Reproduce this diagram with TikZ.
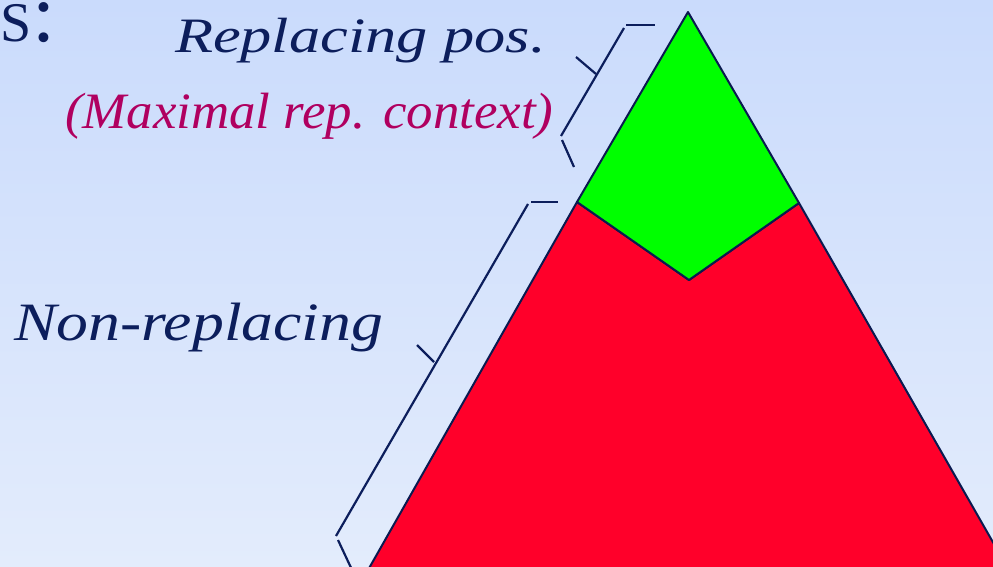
\documentclass[tikz,border=0pt]{standalone}
\usepackage{fontspec}
\setmainfont{Liberation Serif}
\usepackage{graphicx}
\definecolor{navy}{RGB}{12,30,92}
\definecolor{edge}{RGB}{10,26,80}
\definecolor{magentatxt}{RGB}{176,0,96}
\definecolor{bgtop}{RGB}{202,219,252}
\definecolor{bgbot}{RGB}{227,236,252}
\definecolor{greenfill}{RGB}{0,255,0}
\definecolor{redfill}{RGB}{255,0,42}
\tikzset{
  region/.style={draw=edge, line width=2pt, line join=round},
  bracket/.style={draw=navy, line width=2.2pt},
  lbl/.style={anchor=base west, inner sep=0pt, outer sep=0pt, text=navy},
}
\begin{document}
\begin{tikzpicture}[x=1pt,y=-1pt]
\useasboundingbox (0,0) rectangle (993,567);
\shade[top color=bgtop, bottom color=bgbot] (0,0) rectangle (993,567);
\begin{scope}
\clip (0,0) rectangle (993,567);
% coordinates
\coordinate (A) at (688,12);
\coordinate (L) at (577,202);
\coordinate (R) at (799,203);
\coordinate (N) at (689,280);
\coordinate (BL) at (351,600);
\coordinate (BR) at (1026,600);
% red region
\path[region, fill=redfill] (L) -- (N) -- (R) -- (BR) -- (BL) -- cycle;
% green region
\path[region, fill=greenfill] (A) -- (L) -- (N) -- (R) -- cycle;
% upper bracket
\coordinate (u1) at (626,25); \coordinate (u2) at (655,25);
\coordinate (u3) at (624,28); \coordinate (u4) at (561,136);
\coordinate (u5) at (576,57); \coordinate (u6) at (596,74);
\coordinate (u7) at (562,140); \coordinate (u8) at (574,167);
\draw[bracket] (u1) -- (u2);
\draw[bracket] (u3) -- (u4);
\draw[bracket] (u5) -- (u6);
\draw[bracket] (u7) -- (u8);
% lower bracket
\coordinate (l1) at (531,202); \coordinate (l2) at (558,202);
\coordinate (l3) at (528,204); \coordinate (l4) at (336,536);
\coordinate (l5) at (417,345); \coordinate (l6) at (434,362);
\coordinate (l7) at (338,540); \coordinate (l8) at (353,572);
\draw[bracket] (l1) -- (l2);
\draw[bracket] (l3) -- (l4);
\draw[bracket] (l5) -- (l6);
\draw[bracket] (l7) -- (l8);
% texts
\node[lbl] (s) at (0,41.5) {\fontsize{56pt}{60pt}\selectfont S};
\node[lbl] (colon) at (32,41.5) {\fontsize{83pt}{86pt}\selectfont :};
\node[lbl] (rep) at (175,52.7) {\scalebox{1.26}[1]{\fontsize{49.5pt}{52pt}\selectfont\itshape Replacing pos.}};
\node[lbl, text=magentatxt] (max) at (65,128.3) {\scalebox{1.037}[1]{\fontsize{51pt}{54pt}\selectfont\itshape (Maximal rep. context)}};
\node[lbl] (non) at (14,340) {\scalebox{1.18}[1]{\fontsize{54pt}{57pt}\selectfont\itshape Non-replacing}};
\end{scope}
\end{tikzpicture}
\end{document}
